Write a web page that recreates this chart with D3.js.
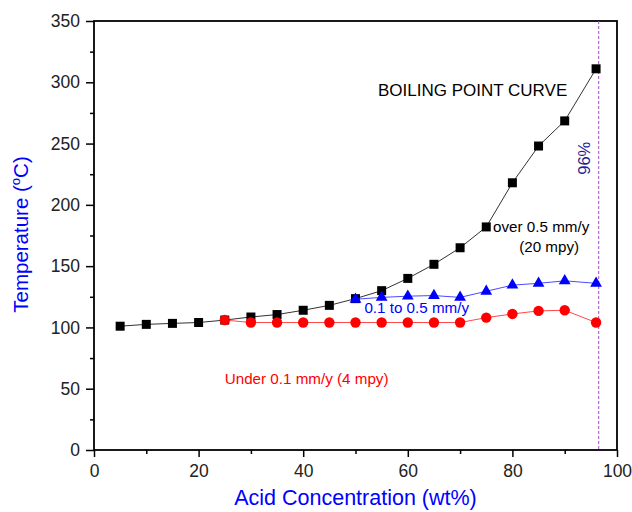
<!DOCTYPE html>
<html>
<head>
<meta charset="utf-8">
<script src="https://cdn.jsdelivr.net/npm/d3@7"></script>
<style>
  body { margin: 0; background: #fff; }
  text { font-family: Arial, "Liberation Sans", sans-serif; }
</style>
</head>
<body>
<div id="chart"></div>
<script>
// data
const boilX = [5, 10, 15, 20, 25, 30, 35, 40, 45, 50, 55, 60, 65, 70, 75, 80, 85, 90, 96];
const boilY = [101, 102.5, 103.3, 104, 106, 108.5, 110.5, 114, 118, 123.5, 130, 140, 151.5, 165, 182, 218, 248, 268.5, 311];

const midX = [50, 55, 60, 65, 70, 75, 80, 85, 90, 96];
const midY = [123, 124.5, 125.5, 126, 124.5, 129.5, 134.5, 136, 138, 136];

const lowX = [25, 30, 35, 40, 45, 50, 55, 60, 65, 70, 75, 80, 85, 90, 96];
const lowY = [106, 104, 104, 104, 104, 104, 104, 104, 104, 104, 108, 111, 113.5, 114, 104];

const xTicks = [0, 20, 40, 60, 80, 100];
const yTicks = [0, 50, 100, 150, 200, 250, 300, 350];
const limitX = 96.5;

const margin = { top: 21, right: 15, bottom: 62, left: 94 };
const width = 632 - margin.left - margin.right;
const height = 512 - margin.top - margin.bottom;

const svg = d3.select("#chart")
  .append("svg")
    .attr("width", width + margin.left + margin.right)
    .attr("height", height + margin.top + margin.bottom)
  .append("g")
    .attr("transform", `translate(${margin.left},${margin.top})`);

const x = d3.scaleLinear().domain([0, 100]).range([0, width]);
const y = d3.scaleLinear().domain([0, 350]).range([height, 0]);

// minor ticks
svg.append("g")
  .attr("transform", `translate(0,${height})`)
  .call(d3.axisBottom(x).tickValues(d3.range(10, 100, 20)).tickSize(4).tickFormat(""))
  .call(g => g.select(".domain").remove())
  .call(g => g.selectAll("line").attr("stroke-width", 1.5));

svg.append("g")
  .call(d3.axisLeft(y).tickValues(d3.range(25, 350, 50)).tickSize(4).tickFormat(""))
  .call(g => g.select(".domain").remove())
  .call(g => g.selectAll("line").attr("stroke-width", 1.5));

// major ticks
svg.append("g")
  .attr("transform", `translate(0,${height})`)
  .call(d3.axisBottom(x).tickValues(xTicks).tickSize(7).tickPadding(8))
  .call(g => g.select(".domain").remove())
  .call(g => g.selectAll("line").attr("stroke-width", 1.5))
  .call(g => g.selectAll("text").attr("font-size", 17.5).attr("fill", "#222")
    .attr("font-family", "Arial, 'Liberation Sans', sans-serif"));

svg.append("g")
  .call(d3.axisLeft(y).tickValues(yTicks).tickSize(8).tickPadding(6))
  .call(g => g.select(".domain").remove())
  .call(g => g.selectAll("line").attr("stroke-width", 1.5))
  .call(g => g.selectAll("text").attr("font-size", 17.5).attr("fill", "#222")
    .attr("font-family", "Arial, 'Liberation Sans', sans-serif"));

// frame
svg.append("rect")
  .attr("width", width)
  .attr("height", height)
  .attr("fill", "none")
  .attr("stroke", "#000")
  .attr("stroke-width", 1.8);

// 96% limit line
svg.append("line")
  .attr("x1", x(limitX)).attr("x2", x(limitX))
  .attr("y1", 0).attr("y2", height)
  .attr("stroke", "#a24fc4")
  .attr("stroke-width", 1)
  .attr("stroke-dasharray", "3,2");

svg.append("text")
  .attr("transform", `translate(${x(limitX) - 9},${y(238)}) rotate(-90)`)
  .attr("text-anchor", "middle")
  .attr("font-size", 16.5)
  .attr("fill", "#1e1e96")
  .text("96%");

function drawSeries(xs, ys, lineColor, fill, shape, size) {
  const pts = xs.map((d, i) => ({ x: d, y: ys[i] }));
  const line = d3.line().x(d => x(d.x)).y(d => y(d.y));
  svg.append("path")
    .datum(pts)
    .attr("fill", "none")
    .attr("stroke", lineColor)
    .attr("stroke-width", 1)
    .attr("d", line);
  svg.append("g").selectAll("path")
    .data(pts)
    .enter()
    .append("path")
      .attr("transform", d => `translate(${x(d.x)},${y(d.y)})`)
      .attr("d", d3.symbol().type(shape).size(size))
      .attr("fill", fill);
}

drawSeries(boilX, boilY, "#333", "#000", d3.symbolSquare, 81);
drawSeries(midX, midY, "#4a4aff", "#0000ff", d3.symbolTriangle, 60);
drawSeries(lowX, lowY, "#ff4a4a", "#ff0000", d3.symbolCircle, 85);

// annotations
svg.append("text")
  .attr("x", x(54.3)).attr("y", y(288.5))
  .attr("font-size", 17)
  .attr("fill", "#000")
  .text("BOILING POINT CURVE");

svg.append("text")
  .attr("x", x(76.3)).attr("y", y(177.5))
  .attr("font-size", 15.2)
  .attr("fill", "#000")
  .text("over 0.5 mm/y");

svg.append("text")
  .attr("x", x(81.3)).attr("y", y(161.5))
  .attr("font-size", 15.2)
  .attr("fill", "#000")
  .text("(20 mpy)");

svg.append("text")
  .attr("x", x(51.7)).attr("y", y(111.5))
  .attr("font-size", 15.2)
  .attr("fill", "#0000ff")
  .text("0.1 to 0.5 mm/y");

svg.append("text")
  .attr("x", x(25)).attr("y", y(54))
  .attr("font-size", 15.2)
  .attr("fill", "#ff0000")
  .text("Under 0.1 mm/y (4 mpy)");

// axis titles
svg.append("text")
  .attr("x", width / 2)
  .attr("y", height + 55)
  .attr("text-anchor", "middle")
  .attr("font-size", 21.5)
  .attr("fill", "#0000ff")
  .text("Acid Concentration (wt%)");

const yTitle = svg.append("text")
  .attr("transform", "rotate(-90)")
  .attr("x", -height / 2 + 1)
  .attr("y", -66)
  .attr("text-anchor", "middle")
  .attr("font-size", 20.5)
  .attr("fill", "#0000ff");
yTitle.append("tspan").text("Temperature (");
yTitle.append("tspan").attr("font-size", 13).attr("dy", -8).text("o");
yTitle.append("tspan").attr("dy", 8).text("C)");
</script>
</body>
</html>
